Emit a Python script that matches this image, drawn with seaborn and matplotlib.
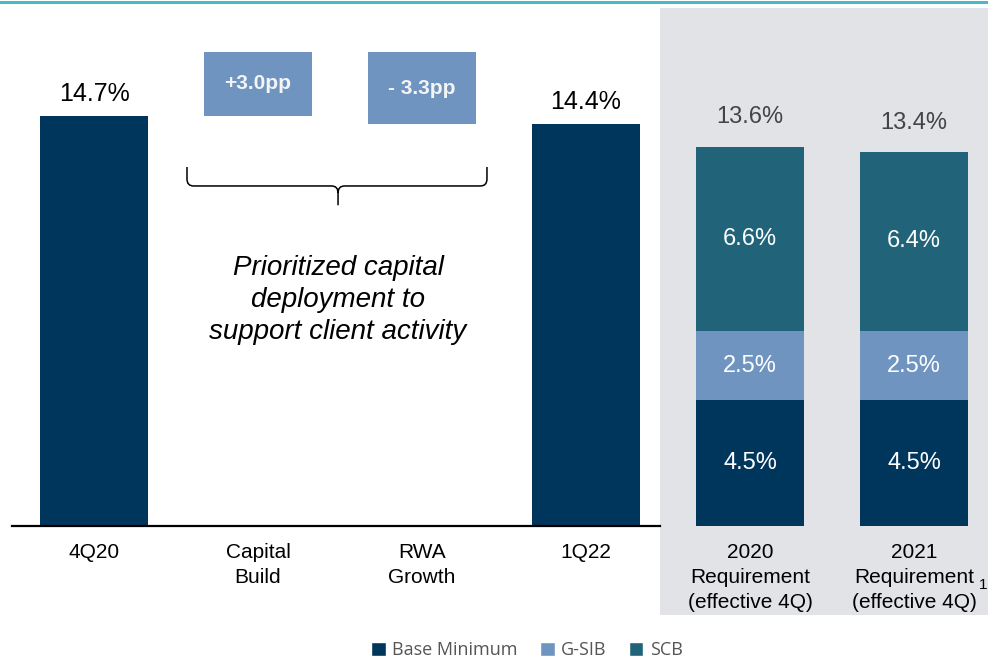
import numpy as np
import pandas as pd
import matplotlib
matplotlib.use("Agg")
import matplotlib.pyplot as plt
import seaborn as sns
from matplotlib.path import Path
from matplotlib.patches import PathPatch, Patch
from matplotlib.lines import Line2D

# colours
navy = "#00365C"
light_blue = "#7094C0"
teal = "#216479"
panel_grey = "#E2E3E7"
top_rule = "#4BB8C6"

# data
categories = ["4Q20", "Capital\nBuild", "RWA\nGrowth", "1Q22",
              "2020\nRequirement\n(effective 4Q)", "2021\nRequirement\n(effective 4Q)"]
actual_cats = ["4Q20", "1Q22"]
actual_vals = [14.7, 14.4]
change_cats = ["Capital\nBuild", "RWA\nGrowth"]
change_labels = ["+3.0pp", "- 3.3pp"]
change_bottom = [14.7, 14.4]
change_top = [17.0, 17.0]
req_cats = ["2020\nRequirement\n(effective 4Q)", "2021\nRequirement\n(effective 4Q)"]
base_min = [4.5, 4.5]
gsib = [2.5, 2.5]
scb = [6.6, 6.4]

sns.set_style("white")
plt.rcParams["font.family"] = ["Liberation Sans", "DejaVu Sans"]
plt.rcParams["text.color"] = "black"

fig = plt.figure(figsize=(9.88, 6.6), dpi=100)
ax = fig.add_axes([12 / 988, 134 / 660, 976 / 988, 518 / 660])

# grey panel behind the requirement bars
ax.axvspan(3.45, 5.46, ymin=-89 / 518, ymax=1, color=panel_grey, zorder=0,
           clip_on=False, lw=0)

bar_w = 0.66
common = dict(order=categories, width=bar_w, saturation=1, ax=ax, zorder=2,
              linewidth=0, edgecolor="none")

# actual CET1 ratios
sns.barplot(x=actual_cats, y=actual_vals, color=navy, **common)

# floating change boxes
heights = np.array(change_top) - np.array(change_bottom)
sns.barplot(x=change_cats, y=heights, bottom=change_bottom, color=light_blue, **common)

# stacked requirements (draw cumulative sums, largest first)
req = pd.DataFrame({"cat": req_cats, "base": base_min, "gsib": gsib, "scb": scb})
req["total"] = req["base"] + req["gsib"] + req["scb"]
sns.barplot(data=req, x="cat", y="total", color=teal, **common)
sns.barplot(x=req["cat"], y=req["base"] + req["gsib"], color=light_blue, **common)
sns.barplot(data=req, x="cat", y="base", color=navy, **common)

ax.set_xlim(-0.5, 5.451)
ax.set_ylim(0, 18.57)
ax.set_xlabel("")
ax.set_ylabel("")
ax.set_yticks([])
sns.despine(ax=ax, left=True, top=True, right=True)
ax.spines["bottom"].set_bounds(-0.5, 3.45)
ax.spines["bottom"].set_linewidth(1.6)
ax.spines["bottom"].set_color("black")
ax.tick_params(axis="x", length=0, pad=12, labelsize=15, colors="black")
ax.set_xticks(range(len(categories)))
ax.set_xticklabels(categories)
for t in ax.get_xticklabels():
    t.set_linespacing(1.4)

# labels on top of actual bars
for cat, v in zip(actual_cats, actual_vals):
    i = categories.index(cat)
    ax.annotate(f"{v:.1f}%", (i, v), xytext=(0, 11), textcoords="offset points",
                ha="center", va="baseline", fontsize=18, color="black")

# change box labels
for cat, lab, b, t in zip(change_cats, change_labels, change_bottom, change_top):
    i = categories.index(cat)
    ax.text(i, (b + t) / 2, lab, ha="center", va="center", fontsize=15,
            fontweight="bold", color="#F4F4F4", zorder=3)

# requirement segment and total labels
for k, cat in enumerate(req_cats):
    i = categories.index(cat)
    b, g, s = base_min[k], gsib[k], scb[k]
    for lo, h in [(0, b), (b, g), (b + g, s)]:
        ax.text(i, lo + h / 2, f"{h:.1f}%", ha="center", va="center",
                fontsize=17, color="white", zorder=3)
    tot = b + g + s
    ax.annotate(f"{tot:.1f}%", (i, tot), xytext=(0, 17), textcoords="offset points",
                ha="center", va="baseline", fontsize=17, color="#444444")

# curly brace under the change boxes
x0, x1, xc = 0.567, 2.396, 1.488
yt, ym, yb = 12.87, 12.19, 11.5
rx, ry = 0.04, 0.25
verts = [(x0, yt), (x0, ym + ry), (x0, ym), (x0 + rx, ym), (xc - rx, ym), (xc, ym), (xc, ym - ry), (xc, yb),
         (x1, yt), (x1, ym + ry), (x1, ym), (x1 - rx, ym), (xc + rx, ym), (xc, ym), (xc, ym - ry)]
codes = [Path.MOVETO, Path.LINETO, Path.CURVE3, Path.CURVE3, Path.LINETO, Path.CURVE3, Path.CURVE3, Path.LINETO,
         Path.MOVETO, Path.LINETO, Path.CURVE3, Path.CURVE3, Path.LINETO, Path.CURVE3, Path.CURVE3]
ax.add_patch(PathPatch(Path(verts, codes), fill=False, lw=1.1, color="black", zorder=3))

ax.text(1.488, 8.1, "Prioritized capital\ndeployment to\nsupport client activity",
        ha="center", va="center", fontsize=20, style="italic", linespacing=1.28,
        color="black")

# footnote marker
fig.text(983 / 988, 1 - 585 / 660, "1", fontsize=11, ha="center", va="center")

# top rule
fig.add_artist(Line2D([0, 1], [1 - 1.5 / 660] * 2, transform=fig.transFigure,
                      color=top_rule, lw=2.2))

handles = [Patch(facecolor=navy, label="Base Minimum"),
           Patch(facecolor=light_blue, label="G-SIB"),
           Patch(facecolor=teal, label="SCB")]
fig.legend(handles=handles, loc="center", bbox_to_anchor=(527 / 988, 10 / 660), ncol=3,
           frameon=False, handlelength=0.8, handleheight=0.8, handletextpad=0.35,
           columnspacing=1.25, prop={"family": "Open Sans", "size": 13}, labelcolor="#555555")

fig.savefig("out.png", dpi=100)
